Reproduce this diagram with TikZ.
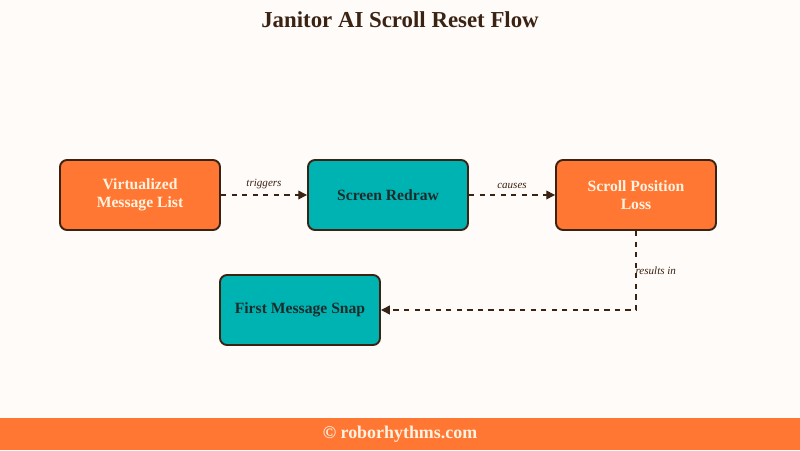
\documentclass[tikz,border=0pt]{standalone}
\usepackage{fontspec}
\setmainfont{Liberation Serif}
\usetikzlibrary{arrows.meta}
\definecolor{bgcream}{HTML}{FFFBF8}
\definecolor{boxorange}{HTML}{FF7733}
\definecolor{boxteal}{HTML}{00B3B3}
\definecolor{inkbrown}{HTML}{3B2314}
\definecolor{lighttext}{HTML}{FFF3E0}
\definecolor{darktext}{HTML}{1E2B2B}
\begin{document}
\begin{tikzpicture}[
    flowbox/.style={draw=inkbrown, line width=1.1pt, rounded corners=4pt,
      minimum width=3.2cm, minimum height=1.4cm, align=center,
      font=\fontsize{8.9}{10}\selectfont\bfseries},
    hotbox/.style={flowbox, fill=boxorange, text=lighttext},
    coolbox/.style={flowbox, fill=boxteal, text=darktext},
    flowarrow/.style={draw=inkbrown, line width=0.8pt, dashed,
      -{Triangle[length=5pt,width=5pt]}},
    edgelabel/.style={font=\fontsize{6.3}{7}\selectfont\itshape, text=inkbrown}]
  \useasboundingbox (0,0) rectangle (16,9);
  \fill[bgcream] (0,0) rectangle (16,9);
  \node[font=\fontsize{13}{15}\selectfont\bfseries, text=inkbrown] (title) at (8,8.6)
    {Janitor AI Scroll Reset Flow};
  \node[hotbox] (list) at (2.8,5.1) {Virtualized\\Message List};
  \node[coolbox] (redraw) at (7.76,5.1) {Screen Redraw};
  \node[hotbox] (loss) at (12.72,5.1) {Scroll Position\\Loss};
  \node[coolbox] (snap) at (6.0,2.8) {First Message Snap};
  \coordinate (bend) at (12.72,2.8);
  \draw[flowarrow] (list) -- (redraw) node[midway, above, edgelabel] {triggers};
  \draw[flowarrow] (redraw) -- (loss) node[midway, above, edgelabel] {causes};
  \draw[flowarrow] (loss) -- (bend) node[pos=0.5, right, xshift=-4pt, edgelabel] {results in} -- (snap);
  % footer
  \fill[boxorange] (0,0) rectangle (16,0.64);
  \node[font=\fontsize{10.2}{12}\selectfont\bfseries, text=lighttext] (credit) at (8,0.32)
    {© roborhythms.com};
\end{tikzpicture}
\end{document}
